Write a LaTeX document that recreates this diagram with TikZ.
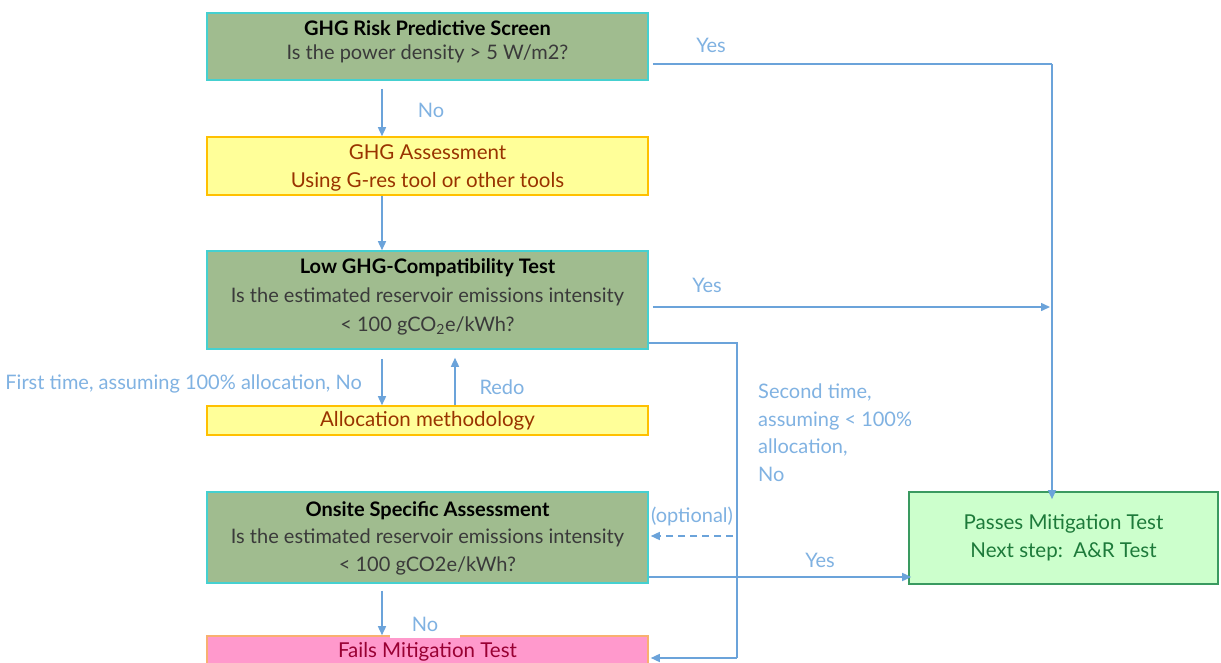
\documentclass[tikz,border=0pt]{standalone}
\usepackage{fontspec}
\setmainfont{Lato}
\usetikzlibrary{arrows.meta,calc}
\definecolor{boxgreen}{HTML}{A0BC8F}
\definecolor{cyanb}{HTML}{45D0D0}
\definecolor{yfill}{HTML}{FFFF99}
\definecolor{goldb}{HTML}{FFC000}
\definecolor{pinkf}{HTML}{FF99CC}
\definecolor{orangeb}{HTML}{F8B070}
\definecolor{passf}{HTML}{CCFFCC}
\definecolor{passb}{HTML}{3A9A60}
\definecolor{conn}{HTML}{6BA3DA}
\definecolor{lbl}{HTML}{80B2E2}
\definecolor{brown}{HTML}{993300}
\definecolor{failt}{HTML}{990033}
\definecolor{passt}{HTML}{1D7A3A}
\definecolor{bodyt}{HTML}{3A3A3A}
\begin{document}
\begin{tikzpicture}[x=1pt,y=-1pt,
  base/.style={draw,line width=1.6pt,minimum width=441pt,inner sep=0pt},
  testbox/.style={base,fill=boxgreen,draw=cyanb},
  assbox/.style={base,fill=yfill,draw=goldb},
  failbox/.style={base,fill=pinkf,draw=orangeb},
  passbox/.style={base,fill=passf,draw=passb,minimum width=309pt},
  ttxt/.style={align=center,inner sep=0pt,text=bodyt},
  ctxt/.style={align=center,inner sep=0pt},
  hd/.style={font=\bfseries\color{black}},
  arr/.style={draw=conn,line width=1.5pt,-{Triangle[length=9pt,width=8pt]}},
  ln/.style={draw=conn,line width=1.5pt},
  lab/.style={text=lbl,font=\fontsize{20}{27.5}\selectfont,inner sep=0pt}
]
\useasboundingbox (0,0) rectangle (1221,663);
\fill[white] (0,0) rectangle (1221,663);

% boxes
\node[testbox,minimum height=67pt] (b1) at (427.5,46.5) {};
\node[assbox,minimum height=58pt] (b2) at (427.5,166) {};
\node[testbox,minimum height=98pt] (b3) at (427.5,300) {};
\node[assbox,minimum height=29pt] (b4) at (427.5,420.5) {};
\node[testbox,minimum height=91pt] (b5) at (427.5,537.5) {};
\node[failbox,minimum height=32pt] (b6) at (427.5,652) {};
\node[passbox,minimum height=92pt] (b7) at (1063.5,538) {};

% box texts
\node[ttxt,font=\fontsize{20}{24}\selectfont] (t1) at (427.5,42) {{\bfseries\color{black}GHG Risk Predictive Screen}\\Is the power density > 5 W/m2?};
\node[ctxt,text=brown,font=\fontsize{20.5}{28}\selectfont] (t2) at (427.5,168) {GHG Assessment\\Using G-res tool or other tools};
\node[ttxt,font=\fontsize{20}{29}\selectfont] (t3) at (427.5,297) {{\bfseries\color{black}Low GHG-Compatibility Test}\\Is the estimated reservoir emissions intensity\\< 100 gCO\textsubscript{2}e/kWh?};
\node[ctxt,text=brown,font=\fontsize{20.5}{24}\selectfont] (t4) at (427.5,421) {Allocation methodology};
\node[ttxt,font=\fontsize{20}{27.5}\selectfont] (t5) at (427.5,538) {{\bfseries\color{black}Onsite Specific Assessment}\\Is the estimated reservoir emissions intensity\\< 100 gCO2e/kWh?};
\node[ctxt,text=failt,font=\fontsize{20.5}{24}\selectfont] (t6) at (427.5,652) {Fails Mitigation Test};
\node[ctxt,text=passt,font=\fontsize{20.5}{28}\selectfont] (t7) at (1063.5,538) {Passes Mitigation Test\\Next step:\ \ A\&R Test};

% vertical flow
\draw[arr] ($(b1.south)+(-45.5,8)$) -- ($(b2.north)+(-45.5,0)$);
\draw[arr] ($(b2.south)+(-45.5,0)$) -- ($(b3.north)+(-45.5,0)$);
\draw[arr] ($(b3.south)+(-45.5,9)$) -- ($(b4.north)+(-45.5,0)$);
\draw[arr] ($(b4.north)+(27.5,0)$) -- ($(b3.south)+(27.5,8)$);
\draw[arr] ($(b5.south)+(-45.5,7)$) -- ($(b6.north)+(-45.5,0)$);

% yes paths
\coordinate (c1) at (1052,64);
\draw[ln] ($(b1.east)+(4,17.5)$) -- (c1);
\draw[arr] (c1) -- ($(b7.north)+(-11.5,8)$);
\coordinate (c3) at (1050,307);
\draw[arr] ($(b3.east)+(4,7)$) -- (c3);
\draw[arr] ($(b5.east)+(0,39.5)$) -- ($(b7.west)+(3,39)$);

% second time path
\coordinate (s1) at (737,343);
\coordinate (s2) at (737,658);
\draw[ln] ($(b3.east)+(0,43)$) -- (s1) -- (s2);
\draw[arr] (s2) -- ($(b6.east)+(2,6)$);
\coordinate (d1) at (733,536);
\draw[arr,dashed,dash pattern=on 7pt off 5pt] (d1) -- ($(b5.east)+(2,-1.5)$);

% labels
\node[lab] (l1) at (711,45) {Yes};
\node[lab] (l2) at (431,110) {No};
\node[lab] (l3) at (707,285) {Yes};
\node[lab,anchor=east] (l4) at (362,384) {First time, assuming 100\% allocation, No};
\node[lab] (l5) at (502,387) {Redo};
\node[lab,anchor=north west,align=left] (l6) at (758,384) {Second time,\\assuming < 100\%\\allocation,\\No};
\node[lab] (l7) at (692,516) {(optional)};
\node[lab] (l8) at (820,560) {Yes};
\node[lab,fill=white,minimum width=70pt,minimum height=28pt] (l9) at (425,624) {No};
\end{tikzpicture}
\end{document}
